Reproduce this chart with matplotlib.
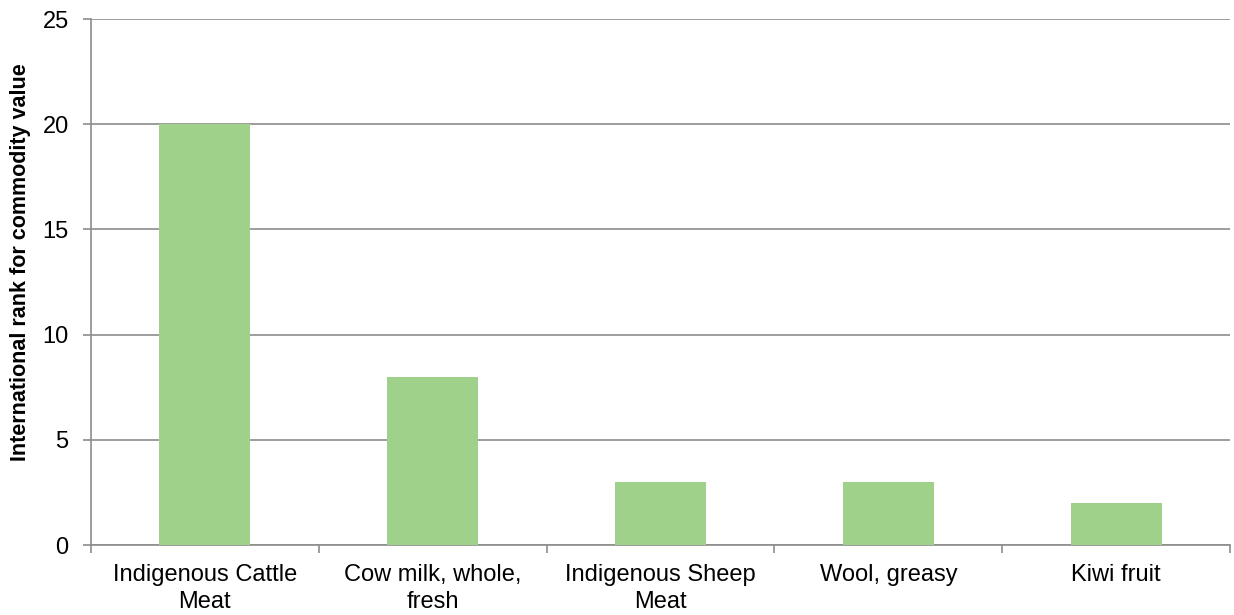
import numpy as np
import matplotlib.pyplot as plt

categories = ["Indigenous Cattle\nMeat", "Cow milk, whole,\nfresh", "Indigenous Sheep\nMeat",
              "Wool, greasy", "Kiwi fruit"]
ranks = [20, 8, 3, 3, 2]
y_ticks = [0, 5, 10, 15, 20, 25]

plt.rcParams['font.family'] = ['Liberation Sans', 'DejaVu Sans']

fig = plt.figure(figsize=(12.34, 6.15), dpi=100)
ax = fig.add_axes([0.0737, 0.1138, 0.9231, 0.8553])

x = np.arange(len(categories))
ax.bar(x, ranks, width=0.4, color='#9FD18B', zorder=3)

ax.set_xlim(-0.5, len(categories) - 0.5)
ax.set_ylim(0, 25)
ax.set_yticks(y_ticks)
ax.yaxis.grid(True, color='#8C8C8C', linewidth=1.2, zorder=0)

ax.set_xticks(x)
ax.set_xticklabels(categories, fontsize=17, linespacing=1.27)
ax.set_xticks(np.arange(len(categories) + 1) - 0.5, minor=True)
ax.tick_params(axis='x', which='major', length=0, pad=14)
ax.tick_params(axis='x', which='minor', length=6, color='#8C8C8C', width=1.2)
ax.tick_params(axis='y', labelsize=17, length=6, color='#8C8C8C', width=1.2, pad=10)

for s in ['top', 'right']:
    ax.spines[s].set_visible(False)
for s in ['left', 'bottom']:
    ax.spines[s].set_color('#8C8C8C')
    ax.spines[s].set_linewidth(1.2)

ax.set_ylabel('International rank for commodity value', fontsize=15.5, fontweight='bold')
ax.yaxis.set_label_coords(-0.0527, 0.538)

fig.savefig('out.png', dpi=100)
